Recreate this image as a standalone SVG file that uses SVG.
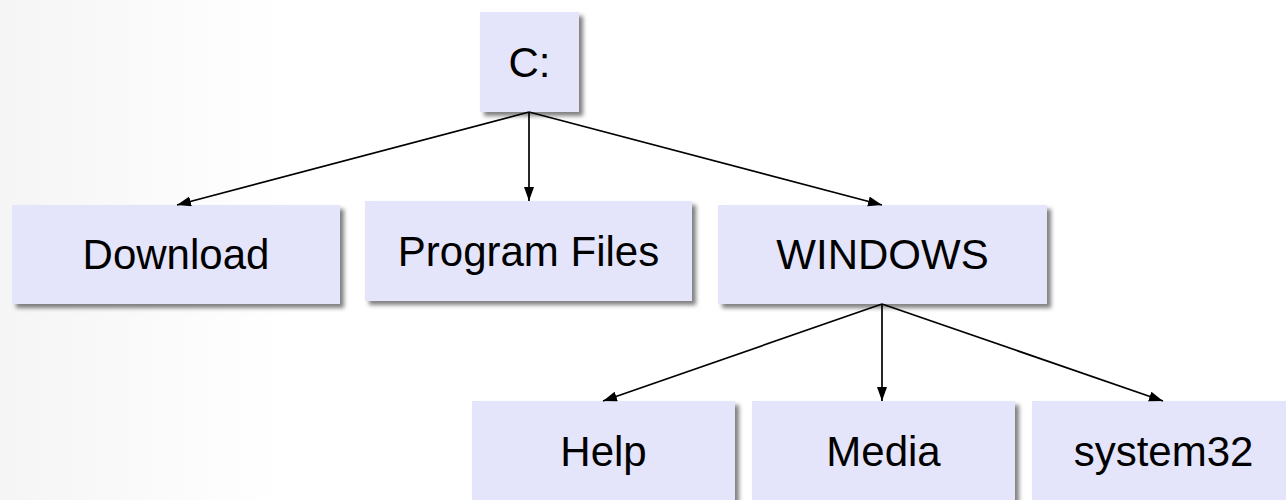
<svg xmlns="http://www.w3.org/2000/svg" width="1286" height="500" viewBox="0 0 1286 500">
  <defs>
    <linearGradient id="bg" x1="0" y1="0" x2="1" y2="0">
      <stop offset="0" stop-color="#f5f5f5"/>
      <stop offset="0.22" stop-color="#ffffff"/>
      <stop offset="1" stop-color="#ffffff"/>
    </linearGradient>
    <filter id="shadow" x="-10%" y="-10%" width="130%" height="130%">
      <feDropShadow dx="4" dy="4" stdDeviation="2.2" flood-color="#000" flood-opacity="0.5"/>
    </filter>
    <marker id="arrow" markerUnits="userSpaceOnUse" markerWidth="15" markerHeight="12" refX="14" refY="5" orient="auto">
      <path d="M0,0 L14,5 L0,10 z" fill="#000"/>
    </marker>
    <style>
      .box { fill: #e4e4fa; filter: url(#shadow); }
      .lbl { font-family: "Liberation Sans", Arial, sans-serif; font-size: 42px; fill: #000; text-anchor: middle; }
      .conn line { stroke: #000; stroke-width: 1.7; marker-end: url(#arrow); }
    </style>
  </defs>
  <rect width="1286" height="500" fill="url(#bg)"/>

  <g id="node-c">
    <rect class="box" x="480" y="12" width="99" height="100"/>
    <text class="lbl" x="529.5" y="77">C:</text>
  </g>
  <g id="node-download">
    <rect class="box" x="12" y="205" width="328" height="99"/>
    <text class="lbl" x="176" y="269">Download</text>
  </g>
  <g id="node-programfiles">
    <rect class="box" x="365" y="201" width="327" height="100"/>
    <text class="lbl" x="528.5" y="266">Program Files</text>
  </g>
  <g id="node-windows">
    <rect class="box" x="718" y="205" width="329" height="99"/>
    <text class="lbl" x="882.5" y="269">WINDOWS</text>
  </g>
  <g id="node-help">
    <rect class="box" x="472" y="401" width="263" height="100"/>
    <text class="lbl" x="603.5" y="466">Help</text>
  </g>
  <g id="node-media">
    <rect class="box" x="752" y="401" width="263" height="100"/>
    <text class="lbl" x="883.5" y="466">Media</text>
  </g>
  <g id="node-system32">
    <rect class="box" x="1032" y="401" width="263" height="100"/>
    <text class="lbl" x="1163.5" y="466">system32</text>
  </g>

  <g id="connectors" class="conn">
    <line x1="529" y1="112" x2="177" y2="205"/>
    <line x1="529" y1="112" x2="529" y2="201"/>
    <line x1="529" y1="112" x2="882" y2="205"/>
    <line x1="882" y1="304" x2="603" y2="401"/>
    <line x1="882" y1="304" x2="882" y2="401"/>
    <line x1="882" y1="304" x2="1163" y2="401"/>
  </g>
</svg>
